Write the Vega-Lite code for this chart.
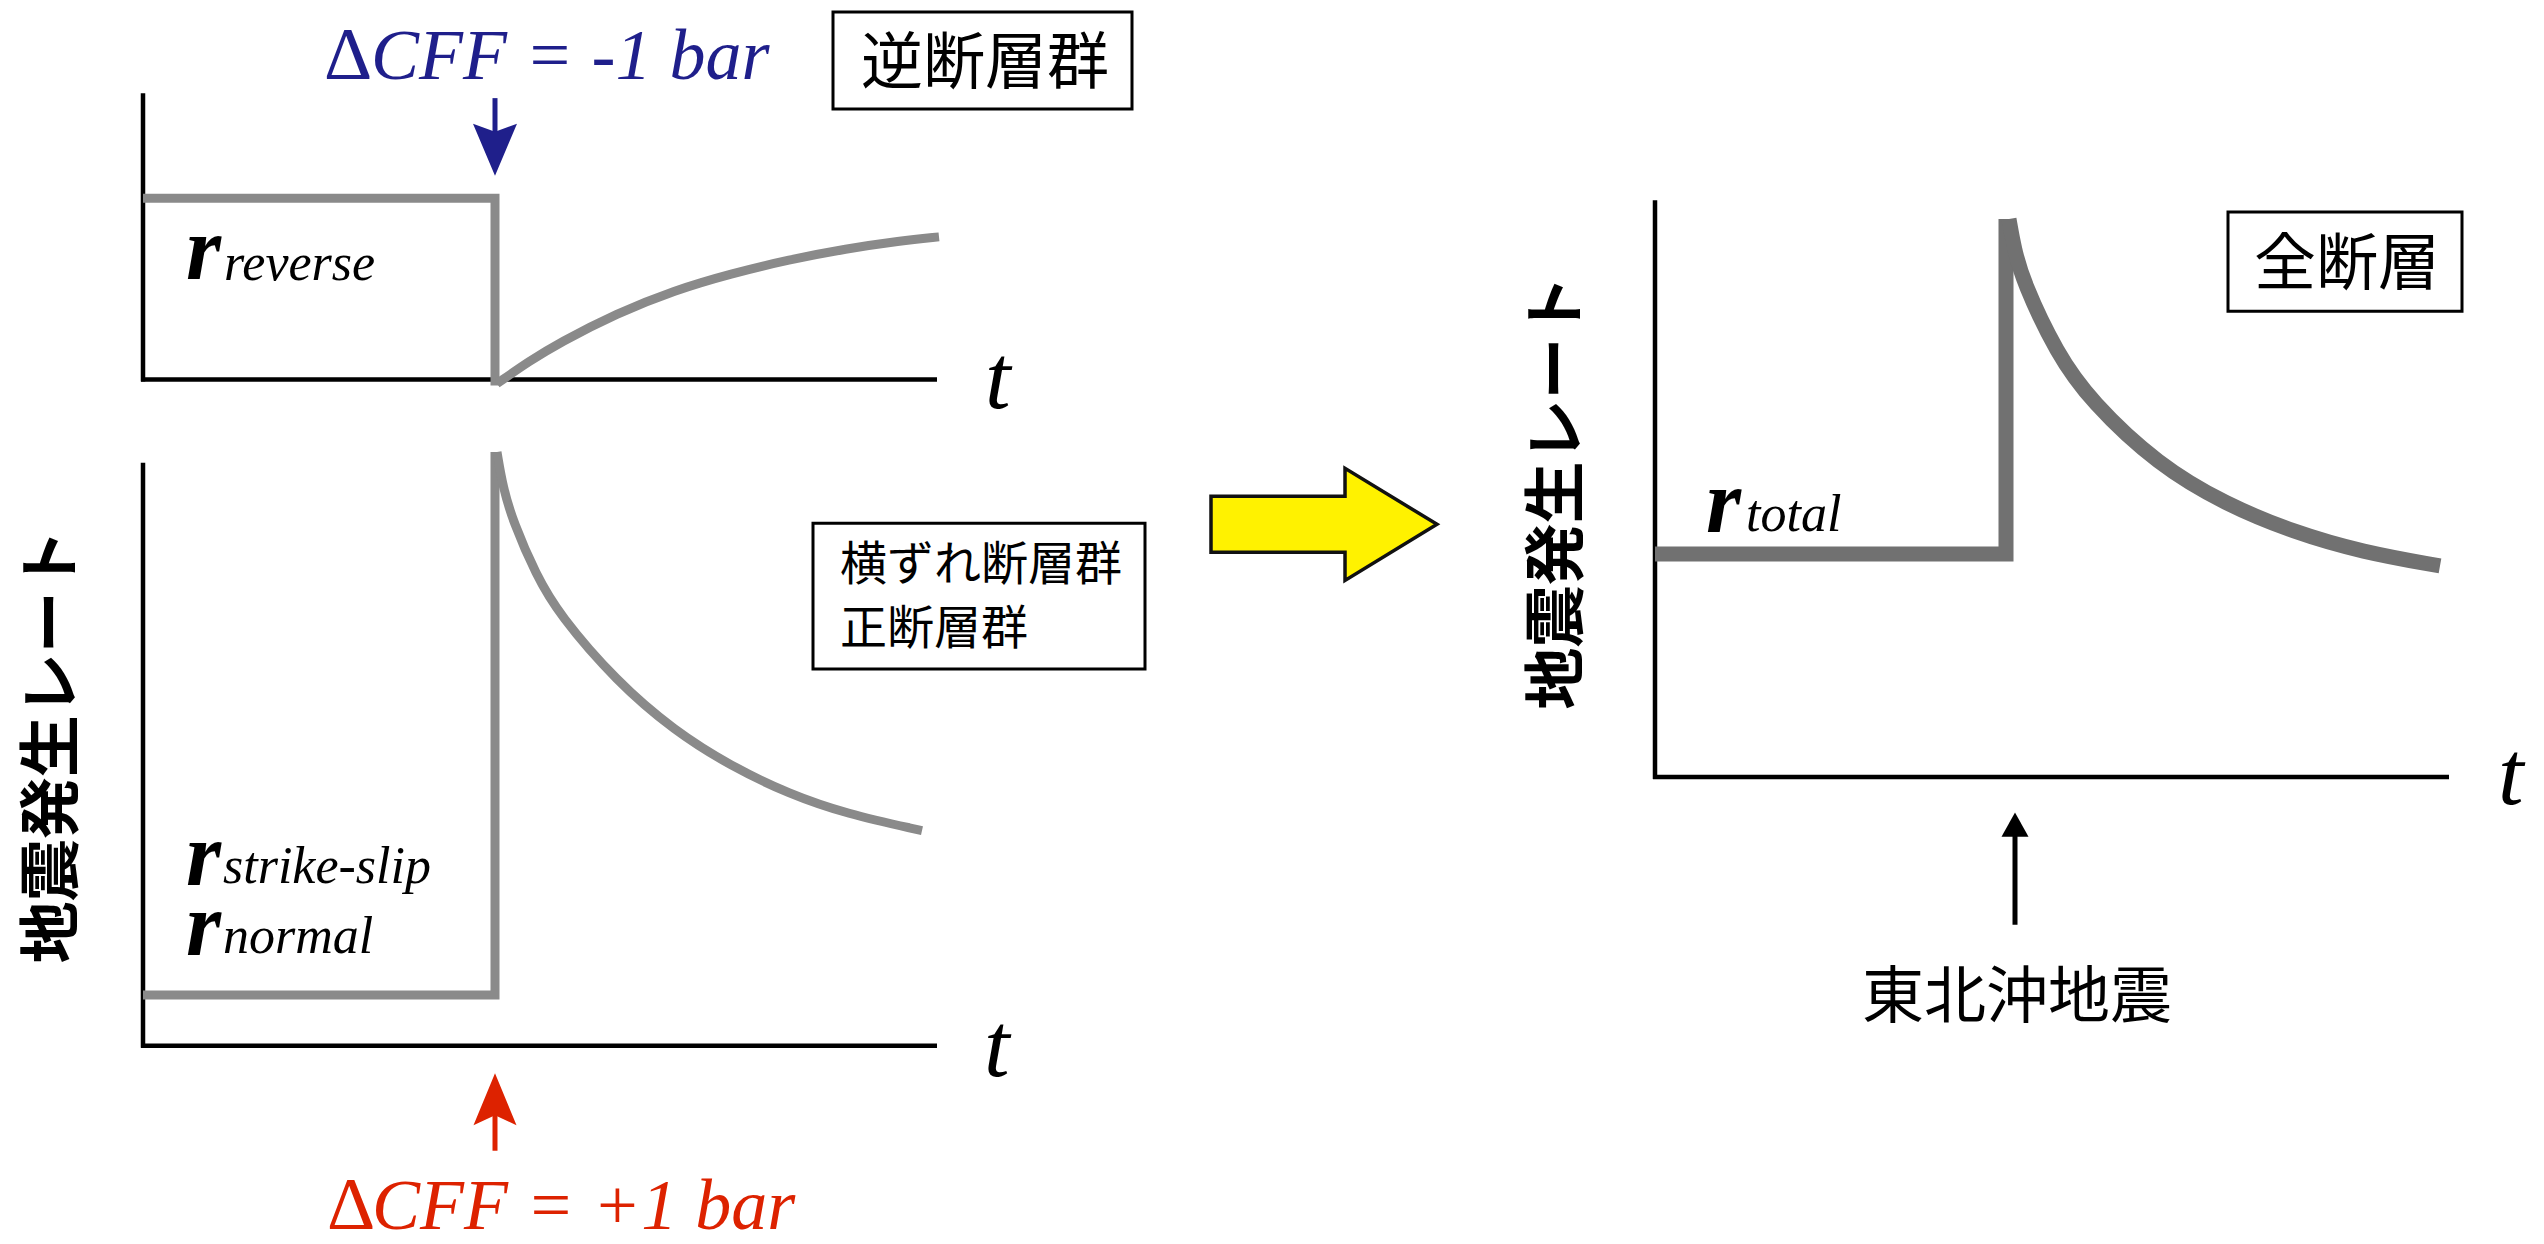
{
  "$schema": "https://vega.github.io/schema/vega-lite/v6.json",
  "width": 2544,
  "height": 1244,
  "autosize": {"type": "fit", "contains": "padding"},
  "padding": 0,
  "background": "white",
  "config": {"view": {"stroke": null}},
  "datasets": {
    "boxes": [
      {"name": "reverse", "x": 833, "x2": 1132, "y": 12, "y2": 110},
      {"name": "ss_normal", "x": 813, "x2": 1145, "y": 528, "y2": 675},
      {"name": "total", "x": 2228, "x2": 2462, "y": 214, "y2": 314}
    ],
    "axes": [
      {"x": 143, "y": 94, "x2": 143, "y2": 385},
      {"x": 141, "y": 383, "x2": 937, "y2": 383},
      {"x": 143, "y": 467, "x2": 143, "y2": 1057},
      {"x": 141, "y": 1055, "x2": 937, "y2": 1055},
      {"x": 1655, "y": 202, "x2": 1655, "y2": 786},
      {"x": 1653, "y": 784, "x2": 2449, "y2": 784}
    ],
    "steps": [
      {"panel": "left", "series": "reverse", "i": 0, "x": 143, "y": 200},
      {"panel": "left", "series": "reverse", "i": 1, "x": 495, "y": 200},
      {"panel": "left", "series": "reverse", "i": 2, "x": 495, "y": 389},
      {"panel": "left", "series": "strike", "i": 0, "x": 143, "y": 1004},
      {"panel": "left", "series": "strike", "i": 1, "x": 495, "y": 1004},
      {"panel": "left", "series": "strike", "i": 2, "x": 495, "y": 456},
      {"panel": "right", "series": "total", "i": 0, "x": 1655, "y": 559},
      {"panel": "right", "series": "total", "i": 1, "x": 2006, "y": 559},
      {"panel": "right", "series": "total", "i": 2, "x": 2006, "y": 221}
    ],
    "curves": [
      {"panel": "left", "series": "reverse", "i": 0, "x": 497, "y": 387},
      {"panel": "left", "series": "reverse", "i": 1, "x": 530, "y": 364},
      {"panel": "left", "series": "reverse", "i": 2, "x": 559, "y": 346},
      {"panel": "left", "series": "reverse", "i": 3, "x": 617, "y": 316},
      {"panel": "left", "series": "reverse", "i": 4, "x": 674, "y": 293},
      {"panel": "left", "series": "reverse", "i": 5, "x": 731, "y": 276},
      {"panel": "left", "series": "reverse", "i": 6, "x": 789, "y": 262},
      {"panel": "left", "series": "reverse", "i": 7, "x": 846, "y": 251},
      {"panel": "left", "series": "reverse", "i": 8, "x": 900, "y": 243},
      {"panel": "left", "series": "reverse", "i": 9, "x": 939, "y": 239},
      {"panel": "left", "series": "strike", "i": 0, "x": 497, "y": 456},
      {"panel": "left", "series": "strike", "i": 1, "x": 503, "y": 492},
      {"panel": "left", "series": "strike", "i": 2, "x": 513, "y": 526},
      {"panel": "left", "series": "strike", "i": 3, "x": 536, "y": 580},
      {"panel": "left", "series": "strike", "i": 4, "x": 559, "y": 620},
      {"panel": "left", "series": "strike", "i": 5, "x": 617, "y": 688},
      {"panel": "left", "series": "strike", "i": 6, "x": 674, "y": 737},
      {"panel": "left", "series": "strike", "i": 7, "x": 731, "y": 773},
      {"panel": "left", "series": "strike", "i": 8, "x": 789, "y": 801},
      {"panel": "left", "series": "strike", "i": 9, "x": 846, "y": 821},
      {"panel": "left", "series": "strike", "i": 10, "x": 922, "y": 838},
      {"panel": "right", "series": "total", "i": 0, "x": 2009, "y": 221},
      {"panel": "right", "series": "total", "i": 1, "x": 2014, "y": 250},
      {"panel": "right", "series": "total", "i": 2, "x": 2023, "y": 284},
      {"panel": "right", "series": "total", "i": 3, "x": 2057, "y": 357},
      {"panel": "right", "series": "total", "i": 4, "x": 2091, "y": 405},
      {"panel": "right", "series": "total", "i": 5, "x": 2158, "y": 469},
      {"panel": "right", "series": "total", "i": 6, "x": 2226, "y": 509},
      {"panel": "right", "series": "total", "i": 7, "x": 2294, "y": 537},
      {"panel": "right", "series": "total", "i": 8, "x": 2362, "y": 557},
      {"panel": "right", "series": "total", "i": 9, "x": 2440, "y": 571}
    ],
    "shafts": [
      {"kind": "neg", "x": 495, "y": 99, "x2": 495, "y2": 136},
      {"kind": "pos", "x": 495, "y": 1122, "x2": 495, "y2": 1161},
      {"kind": "quake", "x": 2015, "x2": 2015, "y": 840, "y2": 933}
    ],
    "heads": [
      {"kind": "neg", "x": 495, "y": 151},
      {"kind": "pos", "x": 495, "y": 1109},
      {"kind": "quake", "x": 2015, "y": 832}
    ],
    "bigarrow": [{"name": "to total", "x": 1324, "y": 529}],
    "cjk62": [
      {"label": "逆断層群", "x": 985, "y": 85},
      {"label": "全断層", "x": 2347, "y": 288},
      {"label": "東北沖地震", "x": 2017, "y": 1027}
    ],
    "cjk47": [
      {"label": "横ずれ断層群", "x": 840, "y": 585},
      {"label": "正断層群", "x": 840, "y": 650}
    ],
    "ylabels": [
      {"label": "地震発生レート", "x": 73, "y": 753},
      {"label": "地震発生レート", "x": 1578, "y": 497}
    ],
    "delta": [
      {"label": "Δ", "kind": "neg", "x": 324, "y": 80},
      {"label": "Δ", "kind": "pos", "x": 327, "y": 1240}
    ],
    "cff": [
      {"label": "CFF = -1 bar", "kind": "neg", "x": 371, "y": 80},
      {"label": "CFF = +1 bar", "kind": "pos", "x": 372, "y": 1240}
    ],
    "tlabels": [
      {"label": "t", "x": 985, "y": 412},
      {"label": "t", "x": 984, "y": 1086},
      {"label": "t", "x": 2498, "y": 811}
    ],
    "rbig": [
      {"label": "r", "x": 186, "y": 281},
      {"label": "r", "x": 186, "y": 893},
      {"label": "r", "x": 186, "y": 964},
      {"label": "r", "x": 1706, "y": 537}
    ],
    "rsub": [
      {"label": "reverse", "x": 224, "y": 282},
      {"label": "strike-slip", "x": 223, "y": 891},
      {"label": "normal", "x": 223, "y": 962},
      {"label": "total", "x": 1746, "y": 536}
    ]
  },
  "encoding": {
    "x": {"field": "x", "type": "quantitative", "scale": {"domain": [0, 2544], "nice": false, "zero": false}, "axis": null},
    "y": {"field": "y", "type": "quantitative", "scale": {"domain": [0, 1244], "nice": false, "zero": false, "reverse": true}, "axis": null}
  },
  "layer": [
    {
      "data": {"name": "boxes"},
      "mark": {"type": "rect", "fill": "white", "stroke": "black", "strokeWidth": 3},
      "encoding": {"x2": {"field": "x2"}, "y2": {"field": "y2"}}
    },
    {
      "data": {"name": "axes"},
      "mark": {"type": "rule", "color": "black", "strokeWidth": 4.5},
      "encoding": {"x2": {"field": "x2"}, "y2": {"field": "y2"}}
    },
    {
      "data": {"name": "bigarrow"},
      "mark": {"type": "point", "shape": "M-1,-0.248L0.186,-0.248L0.186,-0.496L1,0L0.186,0.496L0.186,0.248L-1,0.248Z", "size": 51076, "filled": true, "fill": "#fff200", "stroke": "#111111", "strokeWidth": 3.5, "opacity": 1, "strokeJoin": "miter"}
    },
    {
      "data": {"name": "steps"},
      "transform": [{"filter": "datum.panel === 'left'"}],
      "mark": {"type": "line", "color": "#8a8a8a", "strokeWidth": 9, "strokeJoin": "miter", "strokeCap": "butt"},
      "encoding": {"detail": {"field": "series"}, "order": {"field": "i"}}
    },
    {
      "data": {"name": "curves"},
      "transform": [{"filter": "datum.panel === 'left'"}],
      "mark": {"type": "line", "color": "#8a8a8a", "strokeWidth": 9, "interpolate": "basis", "strokeCap": "butt"},
      "encoding": {"detail": {"field": "series"}, "order": {"field": "i"}}
    },
    {
      "data": {"name": "steps"},
      "transform": [{"filter": "datum.panel === 'right'"}],
      "mark": {"type": "line", "color": "#717171", "strokeWidth": 15, "strokeJoin": "miter", "strokeCap": "butt"},
      "encoding": {"detail": {"field": "series"}, "order": {"field": "i"}}
    },
    {
      "data": {"name": "curves"},
      "transform": [{"filter": "datum.panel === 'right'"}],
      "mark": {"type": "line", "color": "#717171", "strokeWidth": 15, "interpolate": "basis", "strokeCap": "butt"},
      "encoding": {"detail": {"field": "series"}, "order": {"field": "i"}}
    },
    {
      "data": {"name": "shafts"},
      "mark": {"type": "rule", "strokeWidth": 5},
      "encoding": {
        "x2": {"field": "x2"},
        "y2": {"field": "y2"},
        "color": {"field": "kind", "type": "nominal", "scale": {"domain": ["neg", "pos", "quake"], "range": ["#1f1f8b", "#dd2200", "#000000"]}, "legend": null}
      }
    },
    {
      "data": {"name": "heads"},
      "transform": [{"filter": "datum.kind === 'neg'"}],
      "mark": {"type": "point", "shape": "M-0.846,-1L0,-0.69L0.846,-1L0,1Z", "size": 2704, "filled": true, "color": "#1f1f8b", "opacity": 1, "strokeWidth": 0}
    },
    {
      "data": {"name": "heads"},
      "transform": [{"filter": "datum.kind === 'pos'"}],
      "mark": {"type": "point", "shape": "M0,-1L0.827,1L0,0.615L-0.827,1Z", "size": 2704, "filled": true, "color": "#dd2200", "opacity": 1, "strokeWidth": 0}
    },
    {
      "data": {"name": "heads"},
      "transform": [{"filter": "datum.kind === 'quake'"}],
      "mark": {"type": "point", "shape": "M0,-0.9L1,0.9L-1,0.9Z", "size": 729, "filled": true, "color": "#000000", "opacity": 1, "strokeWidth": 0}
    },
    {
      "data": {"name": "cjk62"},
      "mark": {"type": "text", "font": "Noto Sans CJK JP", "fontSize": 62, "align": "center", "baseline": "alphabetic", "color": "black"},
      "encoding": {"text": {"field": "label"}}
    },
    {
      "data": {"name": "cjk47"},
      "mark": {"type": "text", "font": "Noto Sans CJK JP", "fontSize": 47, "align": "left", "baseline": "alphabetic", "color": "black"},
      "encoding": {"text": {"field": "label"}}
    },
    {
      "data": {"name": "ylabels"},
      "mark": {"type": "text", "font": "Noto Sans CJK JP", "fontWeight": "bold", "fontSize": 62, "angle": 270, "align": "center", "baseline": "alphabetic", "color": "black"},
      "encoding": {"text": {"field": "label"}}
    },
    {
      "data": {"name": "delta"},
      "mark": {"type": "text", "font": "Liberation Serif", "fontSize": 75, "align": "left", "baseline": "alphabetic"},
      "encoding": {
        "text": {"field": "label"},
        "color": {"field": "kind", "type": "nominal", "scale": {"domain": ["neg", "pos", "quake"], "range": ["#1f1f8b", "#dd2200", "#000000"]}, "legend": null}
      }
    },
    {
      "data": {"name": "cff"},
      "mark": {"type": "text", "font": "Liberation Serif", "fontStyle": "italic", "fontSize": 72, "align": "left", "baseline": "alphabetic"},
      "encoding": {
        "text": {"field": "label"},
        "color": {"field": "kind", "type": "nominal", "scale": {"domain": ["neg", "pos", "quake"], "range": ["#1f1f8b", "#dd2200", "#000000"]}, "legend": null}
      }
    },
    {
      "data": {"name": "tlabels"},
      "mark": {"type": "text", "font": "Liberation Serif", "fontStyle": "italic", "fontSize": 92, "align": "left", "baseline": "alphabetic", "color": "black"},
      "encoding": {"text": {"field": "label"}}
    },
    {
      "data": {"name": "rbig"},
      "mark": {"type": "text", "font": "Liberation Serif", "fontStyle": "italic", "fontWeight": "bold", "fontSize": 90, "align": "left", "baseline": "alphabetic", "color": "black"},
      "encoding": {"text": {"field": "label"}}
    },
    {
      "data": {"name": "rsub"},
      "mark": {"type": "text", "font": "Liberation Serif", "fontStyle": "italic", "fontSize": 52, "align": "left", "baseline": "alphabetic", "color": "black"},
      "encoding": {"text": {"field": "label"}}
    }
  ]
}
